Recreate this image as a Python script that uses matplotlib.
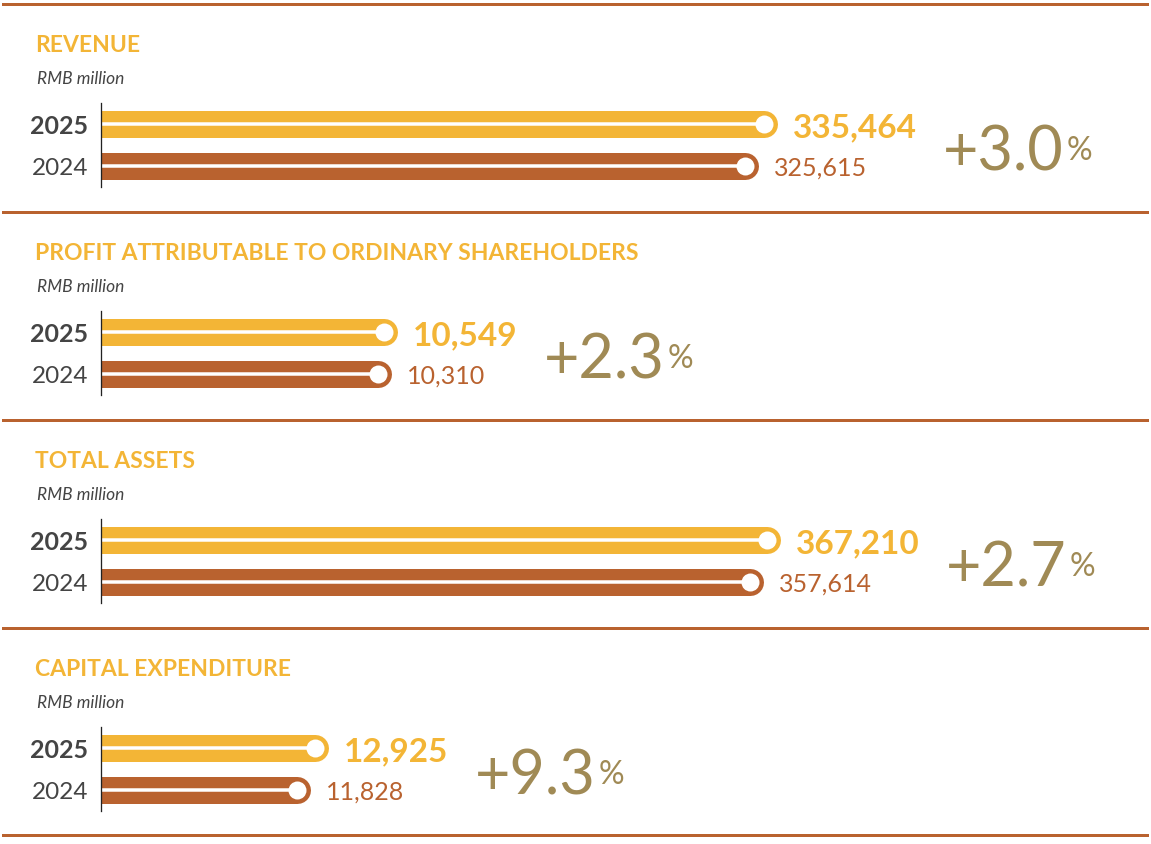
import matplotlib.pyplot as plt
from matplotlib.lines import Line2D

titles = ["REVENUE", "PROFIT ATTRIBUTABLE TO ORDINARY SHAREHOLDERS",
          "TOTAL ASSETS", "CAPITAL EXPENDITURE"]
unit = "RMB million"
years = ["2025", "2024"]
values_2025 = [335464, 10549, 367210, 12925]
values_2024 = [325615, 10310, 357614, 11828]
growth = ["+3.0", "+2.3", "+2.7", "+9.3"]

# every panel has its own scale
x_max = [531000, 39100, 579000, 63400]

GOLD = "#F3B536"
RUST = "#B9622F"
OLIVE = "#A08A55"
GREY = "#444444"

W, H = 1151, 845
PT = 0.72  # points per pixel at dpi 100

plt.rcParams['font.family'] = ['Lato', 'DejaVu Sans']
fig = plt.figure(figsize=(W / 100, H / 100), dpi=100)


def fx(px):
    return px / W


def fy(py):
    return 1 - py / H


# horizontal rules between panels
for r in [5, 213, 421, 629, 836]:
    fig.add_artist(Line2D([fx(3), fx(1147)], [fy(r), fy(r)], color=RUST, lw=3 * PT))

for k in range(4):
    top = 5 + 208 * k
    fig.text(fx(35), fy(top + 47), titles[k], color=GOLD, fontsize=16.5, fontweight='bold')
    fig.text(fx(37), fy(top + 79), unit, color=GREY, fontsize=12.5, style='italic')

    ax = fig.add_axes([fx(101), fy(top + 183), fx(1151) - fx(101), 84 / H])
    vals = [values_2025[k], values_2024[k]]
    cols = [GOLD, RUST]
    for i in range(2):
        ax.plot([0, vals[i]], [i, i], color=cols[i], lw=27 * PT, solid_capstyle='round')
        ax.plot([0, vals[i]], [i, i], color='white', lw=3.5 * PT, solid_capstyle='butt')
        ax.plot([vals[i]], [i], 'o', ms=18 * PT, color='white', mec='none')

    ax.set_xlim(0, x_max[k])
    ax.set_ylim(1.518, -0.506)
    ax.set_xticks([])
    ax.set_yticks([0, 1], years)
    ax.tick_params(axis='y', length=0, pad=13 * PT, colors=GREY)
    ylabs = ax.get_yticklabels()
    ylabs[0].set_fontsize(18)
    ylabs[0].set_fontweight('bold')
    ylabs[1].set_fontsize(17.5)
    for s in ['top', 'right', 'bottom']:
        ax.spines[s].set_visible(False)
    ax.spines['left'].set_color('#222222')
    ax.spines['left'].set_linewidth(1.3 * PT)
    ax.patch.set_alpha(0)

    # value labels
    fs = [24, 18]
    wt = ['bold', 'normal']
    labs = []
    for i in range(2):
        t = ax.annotate(f"{vals[i]:,}", xy=(vals[i], i), xytext=(29 * PT, -0.36 * fs[i]),
                        textcoords='offset points', va='baseline', ha='left',
                        color=cols[i], fontsize=fs[i], fontweight=wt[i])
        labs.append(t)

    # growth figure
    fsp = 44
    pct = ax.annotate(growth[k], xy=(1, 0.5), xycoords=(labs[0], ax.transData),
                      xytext=(26 * PT, -(3 * PT + 0.36 * fsp)), textcoords='offset points',
                      va='baseline', ha='left', color=OLIVE, fontsize=fsp, fontweight='normal')
    ax.annotate("%", xy=(1, 0.5), xycoords=(pct, ax.transData),
                xytext=(3 * PT, -(3 * PT + 0.36 * 23)), textcoords='offset points',
                va='baseline', ha='left', color=OLIVE, fontsize=23, fontweight='normal')

fig.savefig("out.png", dpi=100)
